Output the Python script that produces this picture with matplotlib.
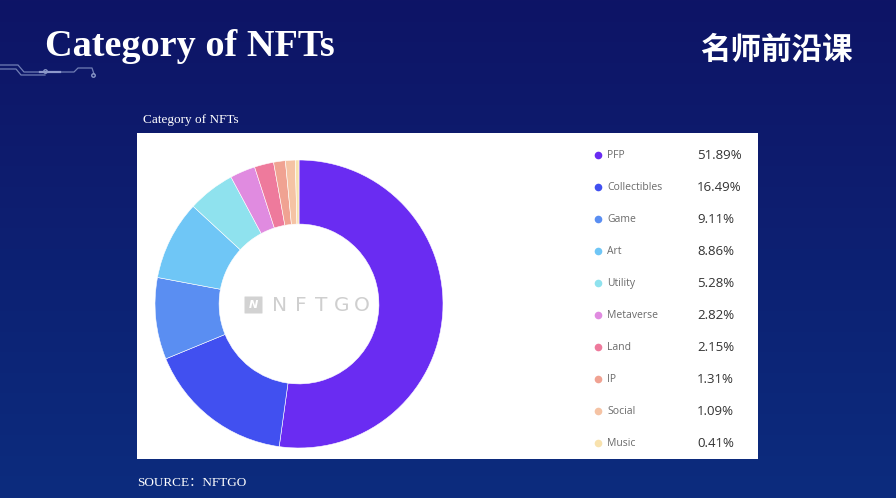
import numpy as np
import matplotlib
matplotlib.use("Agg")
import matplotlib.pyplot as plt
from matplotlib.patches import Rectangle, FancyBboxPatch

# data
categories = ["PFP", "Collectibles", "Game", "Art", "Utility",
              "Metaverse", "Land", "IP", "Social", "Music"]
shares = [51.89, 16.49, 9.11, 8.86, 5.28, 2.82, 2.15, 1.31, 1.09, 0.41]
share_labels = ["51.89%", "16.49%", "9.11%", "8.86%", "5.28%",
                "2.82%", "2.15%", "1.31%", "1.09%", "0.41%"]

colors = ["#6a2cf2", "#4150f0", "#5a8ef2", "#6fc6f6", "#8fe2ee",
          "#e08be0", "#ee7a9c", "#f0a292", "#f5c3a4", "#f8e2ae"]

W, H = 896, 498
fig = plt.figure(figsize=(W / 100, H / 100), dpi=100)

# background gradient
bg = fig.add_axes([0, 0, 1, 1])
grad = np.linspace(0, 1, 256)[:, None]
top = np.array([0x0e, 0x14, 0x66]) / 255
bot = np.array([0x0c, 0x2c, 0x7e]) / 255
img = top[None, None, :] * (1 - grad[..., None]) + bot[None, None, :] * grad[..., None]
img = np.repeat(img, 2, axis=1)
bg.imshow(img, extent=[0, W, H, 0], aspect="auto")
bg.set_xlim(0, W)
bg.set_ylim(H, 0)
bg.axis("off")

# circuit decoration
line_kw = dict(color="#8a98c8", lw=0.9, alpha=0.8)
bg.plot([0, 18, 24, 74, 78, 92, 94], [65, 65, 72, 72, 68, 68, 74], **line_kw)
bg.plot([0, 16, 21, 45], [69, 69, 75, 75], **line_kw)
bg.plot([40, 60], [72, 72], color="#a0aad8", lw=1.6, alpha=0.8)
bg.plot([45], [71], marker="o", ms=2.5, mfc="none", mec="#8a98c8")
bg.plot([93], [75], marker="o", ms=2.5, mfc="none", mec="#8a98c8")

# white panel
bg.add_patch(Rectangle((137, 133), 621, 326, facecolor="white", edgecolor="none"))

# titles
fig.text(45 / W, 1 - 46 / H, "Category of NFTs", color="white",
         family="Liberation Serif", weight="bold", fontsize=27.5, va="center", ha="left")
fig.text(853 / W, 1 - 50 / H, "名师前沿课", color="white",
         family=["Noto Sans CJK SC", "DejaVu Sans"], weight="bold", fontsize=22,
         va="center", ha="right")
fig.text(143 / W, 1 - 120 / H, "Category of NFTs", color="white",
         family="Liberation Serif", fontsize=9.5, va="center", ha="left")
fig.text(137 / W, 1 - 483 / H, "SOURCE：NFTGO", color="white",
         family=["Liberation Serif", "Noto Sans CJK SC"], fontsize=9.5,
         va="center", ha="left")

# donut
cx, cy, r = 299, 304, 144
ax = fig.add_axes([(cx - r) / W, (H - cy - r) / H, 2 * r / W, 2 * r / H])
ax.pie(shares, colors=colors, startangle=90, counterclock=False,
       radius=1, wedgeprops=dict(width=0.445, edgecolor="white", linewidth=0.4))
ax.set_xlim(-1, 1)
ax.set_ylim(-1, 1)
ax.set_aspect("equal")
ax.axis("off")

# watermark
bg.add_patch(FancyBboxPatch((245, 297), 17, 16, boxstyle="round,pad=0.5",
                            facecolor="#d2d2d2", edgecolor="none"))
bg.text(253.5, 305, "N", color="white", fontsize=8, weight="bold",
        style="italic", ha="center", va="center")
for k, ch in enumerate("NFTGO"):
    bg.text(280 + 20.5 * k, 305, ch, color="#cfcfcf", fontsize=14.5,
            family="DejaVu Sans", ha="center", va="center")

# legend
for i, (name, lab, c) in enumerate(zip(categories, share_labels, colors)):
    y = 155 + 32 * i
    bg.plot(598, y, marker="o", ms=5.5, color=c, mec="none")
    bg.text(607, y, name, color="#6b6b6b", fontsize=7.5, family="Open Sans",
            ha="left", va="center")
    bg.text(697, y, lab, color="#333333", fontsize=9.5, family="Open Sans",
            ha="left", va="center")

fig.savefig("out.png", dpi=100)
